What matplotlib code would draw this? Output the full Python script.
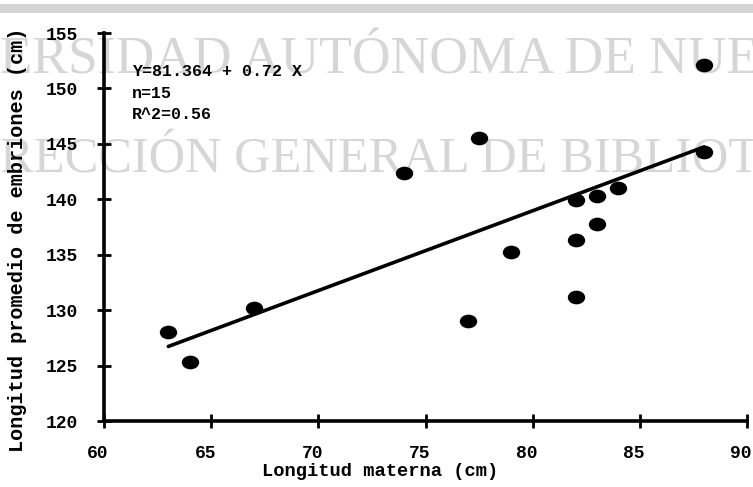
import matplotlib
matplotlib.use("Agg")
import matplotlib.pyplot as plt
from matplotlib.path import Path
from matplotlib.transforms import Affine2D, ScaledTranslation
import numpy as np

# Maternal length (cm) and mean embryo length (cm)
maternal_len = [63, 64, 67, 74, 77.5, 77, 79, 82, 82, 82, 83, 83, 84, 88, 88]
embryo_len = [128.0, 125.3, 130.2, 142.4, 145.5, 129.0, 135.2, 139.9, 136.3,
              131.2, 140.3, 137.8, 141.0, 144.3, 152.1]

# Fitted regression Y = a + b X
intercept = 81.364
slope = 0.72
n_obs = 15
r_squared = 0.56

x_ticks = [60, 65, 70, 75, 80, 85, 90]
y_ticks = [120, 125, 130, 135, 140, 145, 150, 155]

mono = ["Liberation Mono", "DejaVu Sans Mono"]
serif = ["Liberation Serif", "DejaVu Serif"]

fig = plt.figure(figsize=(7.53, 4.87), dpi=100)
fig.patch.set_facecolor("white")

# thin grey band across the top of the page
fig.patches.append(plt.Rectangle((0, 1 - 13 / 487), 1, 9 / 487,
                                 transform=fig.transFigure,
                                 facecolor="#d4d4d4", edgecolor="none",
                                 zorder=-2))

ax = fig.add_axes([104 / 753, 1 - 421 / 487, 643 / 753, 388 / 487])
ax.set_facecolor("none")
ax.set_zorder(1)

# slightly flattened blob for the data points
blob = Path.unit_circle().transformed(Affine2D().scale(1.3, 1.0))
ax.plot(maternal_len, embryo_len, linestyle="none", marker=blob,
        markersize=11.5, color="black", zorder=3)

xs = np.array([min(maternal_len), max(maternal_len)])
ax.plot(xs, intercept + slope * xs, color="black", linewidth=2.6,
        solid_capstyle="round", zorder=2)

ax.set_xlim(60, 90)
ax.set_ylim(120, 155)
ax.set_xticks(x_ticks)
ax.set_yticks(y_ticks)
ax.set_xticklabels([str(t) for t in x_ticks], family=mono,
                   fontweight="bold", fontsize=13)
ax.set_yticklabels([str(t) for t in y_ticks], family=mono,
                   fontweight="bold", fontsize=13)
ax.tick_params(axis="both", direction="inout", length=10, width=2,
               color="black")
ax.tick_params(axis="y", pad=14)
ax.tick_params(axis="x", pad=12)

# x tick labels sit a little to the left of their ticks
shift = ScaledTranslation(-6 / 100, 0, fig.dpi_scale_trans)
for lab in ax.get_xticklabels():
    lab.set_transform(lab.get_transform() + shift)

for side in ("top", "right"):
    ax.spines[side].set_visible(False)
for side in ("left", "bottom"):
    ax.spines[side].set_linewidth(2.6)

ax.text(28 / 643, (421 - 64) / 388,
        f"Y={intercept:.3f} + {slope:.2f} X\nn={n_obs}\nR^2={r_squared:.2f}",
        transform=ax.transAxes, family=mono, fontweight="bold",
        fontsize=12, va="top", ha="left", linespacing=1.55)

fig.text(380 / 753, 1 - 472 / 487, "Longitud materna (cm)", family=mono,
         fontweight="bold", fontsize=13.5, ha="center", va="center")
fig.text(18 / 753, 1 - 240 / 487, "Longitud promedio de embriones (cm)",
         family=mono, fontweight="bold", fontsize=14.5, rotation=90,
         ha="center", va="center")

# library stamp behind the chart
renderer = fig.canvas.get_renderer()


def stamp(full, hidden_prefix, x_px, y_px, size):
    probe = fig.text(0, 0, hidden_prefix, family=serif, fontsize=size)
    w = probe.get_window_extent(renderer).width
    probe.remove()
    fig.text((x_px - w) / 753, 1 - y_px / 487, full, family=serif,
             fontsize=size, color="#d6d6d6", ha="left", va="center",
             zorder=-1)


stamp("UNIVERSIDAD AUTÓNOMA DE NUEVO LEÓN", "UNIV", 0, 61, 38.5)
stamp("DIRECCIÓN GENERAL DE BIBLIOTECAS", "DI", 0, 160, 36.3)

fig.savefig("out.png", dpi=100)
